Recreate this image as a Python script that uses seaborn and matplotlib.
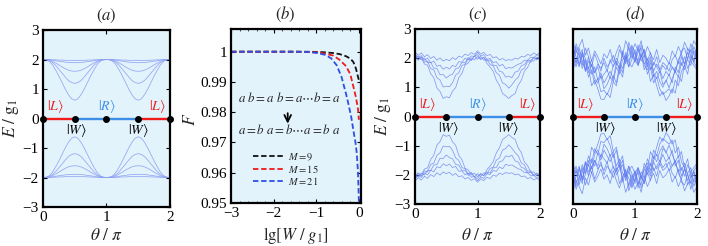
import numpy as np
import pandas as pd
import seaborn as sns
import matplotlib.pyplot as plt
from matplotlib.ticker import MultipleLocator

sns.set_theme(style='white')
plt.rcParams['font.family'] = ['Liberation Serif', 'DejaVu Serif']
plt.rcParams['mathtext.fontset'] = 'stix'

# ---- data -------------------------------------------------------------
theta_full = [0.0, 0.05, 0.1, 0.15, 0.2, 0.25, 0.3, 0.35, 0.4, 0.45, 0.5,
              0.55, 0.6, 0.65, 0.7, 0.75, 0.8, 0.85, 0.9, 0.95, 1.0,
              1.05, 1.1, 1.15, 1.2, 1.25, 1.3, 1.35, 1.4, 1.45, 1.5,
              1.55, 1.6, 1.65, 1.7, 1.75, 1.8, 1.85, 1.9, 1.95, 2.0]

# (a) clean upper band, one period (0..1), repeated for 1..2
a_band1 = [2.0, 1.99, 1.94, 1.82, 1.64, 1.44, 1.22, 1.0, 0.81, 0.67, 0.62,
           0.67, 0.81, 1.0, 1.22, 1.44, 1.64, 1.82, 1.94, 1.99, 2.0]
a_band2 = [2.0, 1.99, 1.96, 1.90, 1.80, 1.67, 1.54, 1.41, 1.29, 1.22, 1.19,
           1.22, 1.29, 1.41, 1.54, 1.67, 1.80, 1.90, 1.96, 1.99, 2.0]
a_band3 = [2.0, 2.0, 1.98, 1.94, 1.88, 1.82, 1.75, 1.69, 1.64, 1.61, 1.60,
           1.61, 1.64, 1.69, 1.75, 1.82, 1.88, 1.94, 1.98, 2.0, 2.0]
a_band4 = [2.0, 2.0, 1.99, 1.98, 1.96, 1.94, 1.93, 1.91, 1.90, 1.90, 1.89,
           1.90, 1.90, 1.91, 1.93, 1.94, 1.96, 1.98, 1.99, 2.0, 2.0]
a_band5 = [2.0, 2.0, 2.0, 1.99, 1.99, 1.98, 1.98, 1.97, 1.97, 1.97, 1.97,
           1.97, 1.97, 1.97, 1.98, 1.98, 1.99, 1.99, 2.0, 2.0, 2.0]

# (c) weak disorder, upper band
c_band1 = [2.05, 1.93, 2.02, 1.80, 1.76, 1.47, 1.33, 0.98, 0.86, 0.62, 0.68,
           0.64, 0.87, 0.99, 1.33, 1.48, 1.77, 1.83, 2.01, 1.94, 2.06,
           1.95, 2.03, 1.82, 1.70, 1.55, 1.25, 1.07, 0.79, 0.71, 0.62,
           0.72, 0.78, 1.07, 1.24, 1.56, 1.68, 1.91, 1.90, 2.04, 1.97]
c_band2 = [2.12, 1.95, 2.05, 1.86, 1.90, 1.64, 1.60, 1.33, 1.25, 1.01, 1.04,
           1.02, 1.16, 1.42, 1.50, 1.75, 1.79, 1.97, 1.92, 2.08, 1.96,
           2.06, 1.93, 1.97, 1.78, 1.74, 1.50, 1.42, 1.15, 1.10, 0.97,
           1.09, 1.24, 1.34, 1.59, 1.66, 1.88, 1.86, 2.02, 1.94, 2.10]
c_band3 = [1.98, 2.08, 1.94, 2.01, 1.84, 1.86, 1.66, 1.65, 1.43, 1.44, 1.32,
           1.41, 1.45, 1.64, 1.67, 1.85, 1.84, 2.02, 1.93, 2.07, 2.12,
           1.98, 2.03, 1.90, 1.94, 1.76, 1.75, 1.55, 1.52, 1.35, 1.38,
           1.33, 1.52, 1.56, 1.74, 1.78, 1.94, 1.91, 2.04, 1.96, 2.02]
c_band4 = [2.15, 2.02, 2.09, 1.93, 2.00, 1.84, 1.90, 1.72, 1.76, 1.62, 1.69,
           1.63, 1.75, 1.71, 1.88, 1.86, 2.00, 1.95, 2.08, 2.05, 2.20,
           2.08, 2.12, 1.96, 1.99, 1.85, 1.88, 1.73, 1.79, 1.64, 1.68,
           1.66, 1.73, 1.79, 1.83, 1.93, 1.92, 2.04, 2.01, 2.12, 2.08]
c_band5 = [2.22, 2.10, 2.18, 2.05, 2.12, 1.99, 2.06, 1.93, 2.01, 1.90, 1.96,
           1.91, 2.02, 1.95, 2.07, 2.03, 2.14, 2.09, 2.19, 2.13, 2.25,
           2.14, 2.20, 2.08, 2.13, 2.01, 2.05, 1.94, 1.99, 1.92, 1.95,
           1.93, 2.00, 1.97, 2.06, 2.04, 2.13, 2.09, 2.18, 2.11, 2.21]

# (d) strong disorder, upper band
d_band1 = [2.20, 1.85, 2.05, 2.30, 1.55, 1.70, 1.05, 1.25, 0.95, 0.60, 0.58,
           0.80, 0.65, 1.20, 1.05, 1.60, 1.35, 2.05, 1.70, 1.95, 2.30,
           1.80, 2.15, 1.60, 1.85, 1.20, 1.45, 1.05, 0.70, 0.85, 0.55,
           0.70, 0.95, 0.80, 1.40, 1.20, 1.80, 1.95, 1.75, 2.25, 2.05]
d_band2 = [1.75, 2.25, 2.10, 1.65, 1.95, 1.50, 1.80, 1.30, 1.15, 1.40, 0.95,
           1.10, 1.35, 1.20, 1.70, 1.45, 1.95, 2.10, 1.70, 2.40, 1.90,
           2.20, 2.35, 1.75, 1.60, 1.85, 1.35, 1.55, 1.20, 1.00, 1.25,
           0.98, 1.30, 1.55, 1.35, 1.85, 1.60, 2.00, 2.30, 1.85, 1.70]
d_band3 = [2.40, 2.05, 1.80, 2.20, 2.00, 1.65, 1.95, 1.50, 1.70, 1.30, 1.45,
           1.60, 1.30, 1.75, 1.90, 1.60, 2.25, 1.95, 2.10, 2.45, 2.15,
           1.90, 2.45, 2.20, 1.80, 2.05, 1.55, 1.80, 1.60, 1.30, 1.55,
           1.40, 1.70, 1.50, 1.95, 2.15, 1.75, 2.35, 2.10, 1.90, 2.45]
d_band4 = [1.90, 2.50, 2.20, 1.75, 2.35, 2.05, 1.70, 2.15, 1.85, 1.55, 2.00,
           1.70, 1.85, 2.10, 1.75, 2.30, 2.05, 1.85, 2.55, 2.20, 1.95,
           2.45, 2.05, 2.30, 1.90, 2.20, 1.75, 2.05, 1.60, 1.85, 1.75,
           1.55, 1.95, 2.10, 1.80, 2.25, 2.35, 1.95, 2.50, 2.15, 2.00]
d_band5 = [2.55, 2.20, 2.40, 2.65, 2.10, 2.35, 1.90, 2.25, 2.05, 1.80, 2.15,
           2.00, 2.30, 1.85, 2.20, 2.45, 2.10, 2.60, 2.30, 2.15, 2.50,
           2.25, 2.60, 2.05, 2.40, 2.15, 1.95, 2.30, 1.85, 2.10, 2.00,
           1.80, 2.25, 2.05, 2.40, 2.15, 2.55, 2.30, 2.20, 2.60, 2.40]
d_band6 = [2.05, 1.70, 2.35, 1.90, 1.60, 2.05, 1.45, 1.70, 1.25, 1.50, 1.15,
           1.35, 1.55, 1.30, 1.85, 1.65, 2.15, 1.80, 2.40, 2.00, 2.20,
           1.75, 2.05, 2.30, 1.70, 1.95, 1.50, 1.30, 1.55, 1.10, 1.20,
           1.45, 1.15, 1.70, 1.50, 2.05, 1.80, 2.20, 1.90, 2.40, 2.10]
d_band7 = [1.95, 2.40, 1.75, 2.10, 1.85, 1.35, 1.60, 1.10, 1.30, 0.85, 0.90,
           0.75, 1.00, 1.40, 1.15, 1.75, 1.50, 2.20, 1.90, 2.15, 1.85,
           2.35, 1.90, 2.10, 1.45, 1.70, 1.15, 1.35, 0.95, 0.75, 0.85,
           0.95, 0.80, 1.25, 1.05, 1.55, 1.75, 1.45, 2.10, 1.85, 2.25]
d_band8 = [1.60, 1.95, 1.70, 2.20, 1.55, 1.90, 1.75, 1.50, 1.80, 1.65, 1.85,
           1.55, 1.95, 1.70, 2.00, 1.80, 1.65, 2.05, 1.85, 1.70, 1.95,
           1.75, 2.10, 1.80, 2.00, 1.60, 1.85, 1.70, 1.50, 1.75, 1.60,
           1.85, 1.70, 1.55, 1.90, 1.75, 2.05, 1.65, 1.90, 1.75, 1.60]

# zero-energy states along theta
state_theta = [0.0, 0.5, 1.0, 1.5, 2.0]
state_colors = ['#f01c1c', '#3d8fe6', '#3d8fe6', '#f01c1c']

# (b) fidelity vs lg[W/g1]
lgW_9 = [-3.0, -2.0, -1.5, -1.2, -1.0, -0.8, -0.6, -0.45, -0.3, -0.2, -0.13, -0.07, -0.03, 0.0]
F_9 = [1.0, 1.0, 1.0, 0.99998, 0.99993, 0.9998, 0.99955, 0.9992, 0.9985, 0.9977, 0.9966, 0.9945, 0.9922, 0.9906]
lgW_15 = [-3.0, -2.0, -1.5, -1.3, -1.0, -0.8, -0.6, -0.45, -0.3, -0.2, -0.13, -0.07, -0.02, 0.0]
F_15 = [1.0, 1.0, 1.0, 0.99995, 0.9998, 0.9994, 0.9987, 0.9973, 0.9952, 0.9925, 0.9885, 0.9850, 0.9810, 0.9775]
lgW_21 = [-3.0, -2.0, -1.5, -1.2, -1.0, -0.8, -0.65, -0.52, -0.41, -0.3, -0.25, -0.18, -0.13, -0.08, -0.05, -0.02, 0.0]
F_21 = [1.0, 1.0, 0.99998, 0.9999, 0.9996, 0.9990, 0.9978, 0.9955, 0.9918, 0.9860, 0.9830, 0.9785, 0.9741, 0.9700, 0.9665, 0.9600, 0.9505]
M_labels = ['$M=9$', '$M=15$', '$M=21$']
M_colors = ['#111111', '#ee1c1c', '#2d4fe6']

F_ticks = [0.95, 0.96, 0.97, 0.98, 0.99, 1.0]
F_ticklabels = ['0.95', '0.96', '0.97', '0.98', '0.99', '1']

bg = '#e2f3fc'


def style_axes(ax):
    ax.set_facecolor(bg)
    for s in ax.spines.values():
        s.set_color('black')
        s.set_linewidth(1.6)
    ax.tick_params(direction='in', top=True, right=True, bottom=True, left=True,
                   length=3, width=0.8, labelsize=11, pad=3, colors='black')
    ax.tick_params(which='minor', direction='in', top=True, bottom=True, length=1.5, width=0.6)


def band_panel(ax, bands, color, lw, alpha, title, ylab_x, xlab_y, show_ylabel=True):
    rows = []
    for k, vals in enumerate(bands):
        for t, e in zip(theta_full, vals):
            rows.append((k, t, e))
            rows.append((k + 100, t, -e))
    df = pd.DataFrame(rows, columns=['curve', 'theta', 'E'])
    sns.lineplot(data=df, x='theta', y='E', units='curve', estimator=None,
                 color=color, lw=lw, alpha=alpha, ax=ax, legend=False)
    # zero-energy line with states
    for i in range(4):
        ax.plot(state_theta[i:i + 2], [0, 0], color=state_colors[i], lw=1.7, zorder=3)
    ax.plot(state_theta, [0] * 5, 'o', color='black', ms=4, zorder=4, clip_on=False)
    ax.text(0.2, 0.42, r'$|L\rangle$', color='#f01c1c', fontsize=10, ha='center', va='center')
    ax.text(1.0, 0.42, r'$|R\rangle$', color='#3d8fe6', fontsize=10, ha='center', va='center')
    ax.text(1.8, 0.42, r'$|L\rangle$', color='#f01c1c', fontsize=10, ha='center', va='center')
    ax.text(0.53, -0.42, r'$|W\rangle$', color='black', fontsize=10, ha='center', va='center')
    ax.text(1.5, -0.42, r'$|W\rangle$', color='black', fontsize=10, ha='center', va='center')
    ax.set_xlim(0, 2)
    ax.set_ylim(-3, 3)
    ax.set_xticks([0, 1, 2])
    ax.set_yticks([-3, -2, -1, 0, 1, 2, 3])
    style_axes(ax)
    ax.set_xlabel(r'$\theta\ /\ \pi$', fontsize=12.5)
    ax.xaxis.set_label_coords(0.5, xlab_y)
    if show_ylabel:
        ax.set_ylabel(r'$E\ /\ \mathrm{g}_1$', fontsize=12.5)
        ax.yaxis.set_label_coords(ylab_x, 0.5)
    else:
        ax.set_ylabel('')
        ax.set_yticklabels([])
    ax.set_title(title, fontsize=12, pad=7)


fig = plt.figure(figsize=(7.08, 2.46), dpi=100)
ax_a = fig.add_axes([0.0607, 0.1585, 0.1794, 0.7195])
ax_b = fig.add_axes([0.3263, 0.1748, 0.1836, 0.7073])
ax_c = fig.add_axes([0.5862, 0.1707, 0.1766, 0.7114])
ax_d = fig.add_axes([0.8093, 0.1707, 0.1751, 0.7114])

# (a)
a_bands = [a + a[1:] for a in [a_band1, a_band2, a_band3, a_band4, a_band5]]
band_panel(ax_a, a_bands, '#8d9ff2', 0.6, 0.85, r'$(a)$', -0.175, -0.12)

# (c)
band_panel(ax_c, [c_band1, c_band2, c_band3, c_band4, c_band5], '#7489ef', 0.55, 0.85,
           r'$(c)$', -0.18, -0.135)

# (d)
d_bands = [d_band1, d_band2, d_band3, d_band4, d_band5, d_band6, d_band7, d_band8]
band_panel(ax_d, d_bands, '#5f7af0', 0.55, 0.8, r'$(d)$', -0.18, -0.135, show_ylabel=False)

# (b)
df_b = pd.concat([
    pd.DataFrame({'lgW': lgW_9, 'F': F_9, 'M': M_labels[0]}),
    pd.DataFrame({'lgW': lgW_15, 'F': F_15, 'M': M_labels[1]}),
    pd.DataFrame({'lgW': lgW_21, 'F': F_21, 'M': M_labels[2]}),
])
sns.lineplot(data=df_b, x='lgW', y='F', hue='M', palette=M_colors, ax=ax_b,
             lw=1.3, linestyle=(0, (3, 1.5)), legend=False, estimator=None)
ax_b.set_xlim(-3, 0.05)
ax_b.set_ylim(0.95, 1.0075)
ax_b.set_xticks([-3, -2, -1, 0])
ax_b.xaxis.set_minor_locator(MultipleLocator(0.2))
ax_b.set_yticks(F_ticks)
ax_b.set_yticklabels(F_ticklabels)
style_axes(ax_b)
ax_b.set_xlabel(r'$\mathrm{lg}[W\ /\ g_1]$', fontsize=12)
ax_b.xaxis.set_label_coords(0.5, -0.125)
ax_b.set_ylabel(r'$F$', fontsize=12.5)
ax_b.yaxis.set_label_coords(-0.25, 0.48)
ax_b.set_title(r'$(b)$', fontsize=12, pad=7, x=0.415)
ax_b.text(-1.63, 0.9847, r'$a\ b=a\ b=a\cdots b=a$', ha='center', va='center', fontsize=9.3)
ax_b.text(-1.63, 0.9741, r'$a=b\ a=b\cdots a=b\ a$', ha='center', va='center', fontsize=9.3)
ax_b.annotate('', xy=(-1.67, 0.9753), xytext=(-1.67, 0.9806),
              arrowprops=dict(arrowstyle='->', lw=1.3, color='black'))
ax_b.legend(handles=ax_b.lines[:3], labels=M_labels, loc='lower left',
            bbox_to_anchor=(0.1, 0.04), frameon=False, fontsize=7.5,
            handlelength=2.8, labelspacing=0.0, handletextpad=0.5)

fig.savefig('out.png', dpi=100)
